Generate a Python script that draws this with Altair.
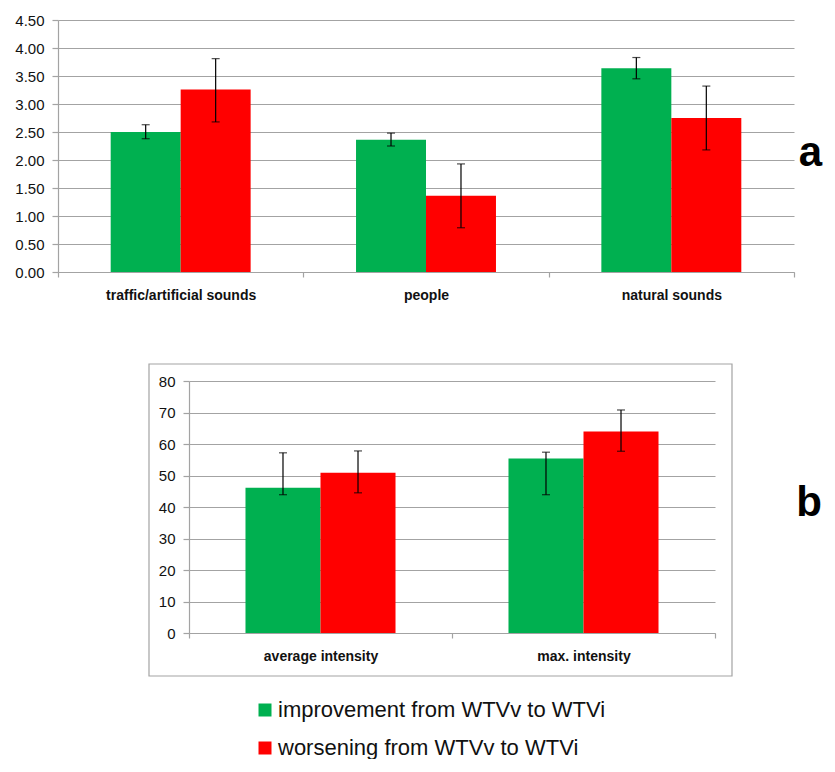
import altair as alt
import pandas as pd

# ---- data ----
series = ["improvement from WTVv to WTVi", "worsening from WTVv to WTVi"]
colors = ["#00b050", "#ff0000"]

cats_a = ["traffic/artificial sounds", "people", "natural sounds"]
imp_a = [2.50, 2.36, 3.64]
imp_a_lo = [2.38, 2.25, 3.45]
imp_a_hi = [2.63, 2.48, 3.83]
wor_a = [3.26, 1.36, 2.75]
wor_a_lo = [2.68, 0.79, 2.18]
wor_a_hi = [3.81, 1.93, 3.32]
yticks_a = [0, 0.5, 1.0, 1.5, 2.0, 2.5, 3.0, 3.5, 4.0, 4.5]

cats_b = ["average intensity", "max. intensity"]
imp_b = [46.1, 55.4]
imp_b_lo = [43.9, 43.9]
imp_b_hi = [57.2, 57.4]
wor_b = [50.9, 64.0]
wor_b_lo = [44.5, 57.7]
wor_b_hi = [57.8, 70.8]
yticks_b = [0, 10, 20, 30, 40, 50, 60, 70, 80]

panel_labels = ["a", "b"]

FONT = "Liberation Sans"
GRID = "#a3a3a3"


def table(cats, imp, imp_lo, imp_hi, wor, wor_lo, wor_hi):
    rows = []
    for i, c in enumerate(cats):
        rows.append(dict(cat=c, series=series[0], value=imp[i], lo=imp_lo[i], hi=imp_hi[i]))
        rows.append(dict(cat=c, series=series[1], value=wor[i], lo=wor_lo[i], hi=wor_hi[i]))
    return pd.DataFrame(rows)


def panel(df, cats, yticks, ymax, fmt, width, label, lab_x, lab_y, legend, frame):
    xaxis = alt.Axis(title=None, labelAngle=0, tickBand="extent", grid=False,
                     labelFont=FONT, labelFontSize=14, labelFontWeight="bold",
                     labelColor="#111111", domainColor=GRID, tickColor=GRID,
                     domainWidth=1.2, tickWidth=1.2, tickSize=5, labelPadding=11)
    yaxis = alt.Axis(title=None, values=yticks, format=fmt, grid=True,
                     gridColor=GRID, gridWidth=1.2, domainColor=GRID, tickColor=GRID,
                     domainWidth=1.2, tickWidth=1.2, tickSize=6, labelPadding=8,
                     labelFont=FONT, labelFontSize=15, labelColor="#111111")
    xs = alt.Scale(paddingInner=0, paddingOuter=0)
    xos = alt.Scale(paddingInner=0, paddingOuter=0.753)
    ys = alt.Scale(domain=[0, ymax], nice=False)

    def X():
        return alt.X("cat:N", sort=cats, scale=xs, axis=xaxis)

    def XO():
        return alt.XOffset("series:N", sort=series, scale=xos)

    base = alt.Chart(df)
    bars = base.mark_bar().encode(
        x=X(), xOffset=XO(),
        y=alt.Y("value:Q", scale=ys, axis=yaxis),
        color=alt.Color("series:N", sort=series,
                        scale=alt.Scale(domain=series, range=colors), legend=legend),
    )
    rule = base.mark_rule(color="#000000", strokeWidth=1.2).encode(
        x=X(), xOffset=XO(),
        y=alt.Y("lo:Q", scale=ys, axis=yaxis), y2="hi:Q")
    cap_lo = base.mark_tick(color="#000000", size=8, thickness=1.2).encode(
        x=X(), xOffset=XO(), y=alt.Y("lo:Q", scale=ys, axis=yaxis))
    cap_hi = base.mark_tick(color="#000000", size=8, thickness=1.2).encode(
        x=X(), xOffset=XO(), y=alt.Y("hi:Q", scale=ys, axis=yaxis))
    lab = alt.Chart(pd.DataFrame({"t": [label]})).mark_text(
        font=FONT, fontSize=42, fontWeight="bold", align="right",
        baseline="alphabetic", color="#000000").encode(
        text="t:N", x=alt.value(lab_x), y=alt.value(lab_y))
    layers = [bars, rule, cap_lo, cap_hi, lab]
    if frame is not None:
        fr = alt.Chart(pd.DataFrame({"f": [0]})).mark_rect(
            fillOpacity=0, stroke=GRID, strokeWidth=1.2).encode(
            x=alt.value(frame[0]), x2=alt.value(frame[1]),
            y=alt.value(frame[2]), y2=alt.value(frame[3]))
        layers = [fr] + layers
    return alt.layer(*layers).properties(width=width, height=252)


df_a = table(cats_a, imp_a, imp_a_lo, imp_a_hi, wor_a, wor_a_lo, wor_a_hi)
df_b = table(cats_b, imp_b, imp_b_lo, imp_b_hi, wor_b, wor_b_lo, wor_b_hi)

top = panel(df_a, cats_a, yticks_a, 4.5, ".2f", 736, panel_labels[0], 764, 146, None, None)

legend_b = alt.Legend(orient="none", legendX=196, legendY=318, title=None,
                      symbolType="square", symbolSize=169, symbolStrokeWidth=0,
                      labelFont=FONT, labelFontSize=22, labelColor="#111111",
                      labelOffset=2, rowPadding=16, padding=0, labelLimit=500)
bottom = panel(df_b, cats_b, yticks_b, 80, "d", 526, panel_labels[1], 633, 135,
               legend_b, (-40, 543, -17, 295))

# blank block that shifts panel b to the right, as in the reference layout
spacer = alt.Chart(pd.DataFrame({"f": [0]})).mark_point(opacity=0).encode(
    x=alt.value(0), y=alt.value(0)).properties(width=88, height=252)

chart = alt.vconcat(top, alt.hconcat(spacer, bottom, spacing=0), spacing=59).resolve_scale(
    color="independent", x="independent", y="independent", xOffset="independent"
).properties(
    padding={"left": 6, "top": 4, "right": 0, "bottom": 0}
).configure_view(stroke="transparent")

chart.save("out.html", embed_options={"renderer": "svg", "actions": False})
